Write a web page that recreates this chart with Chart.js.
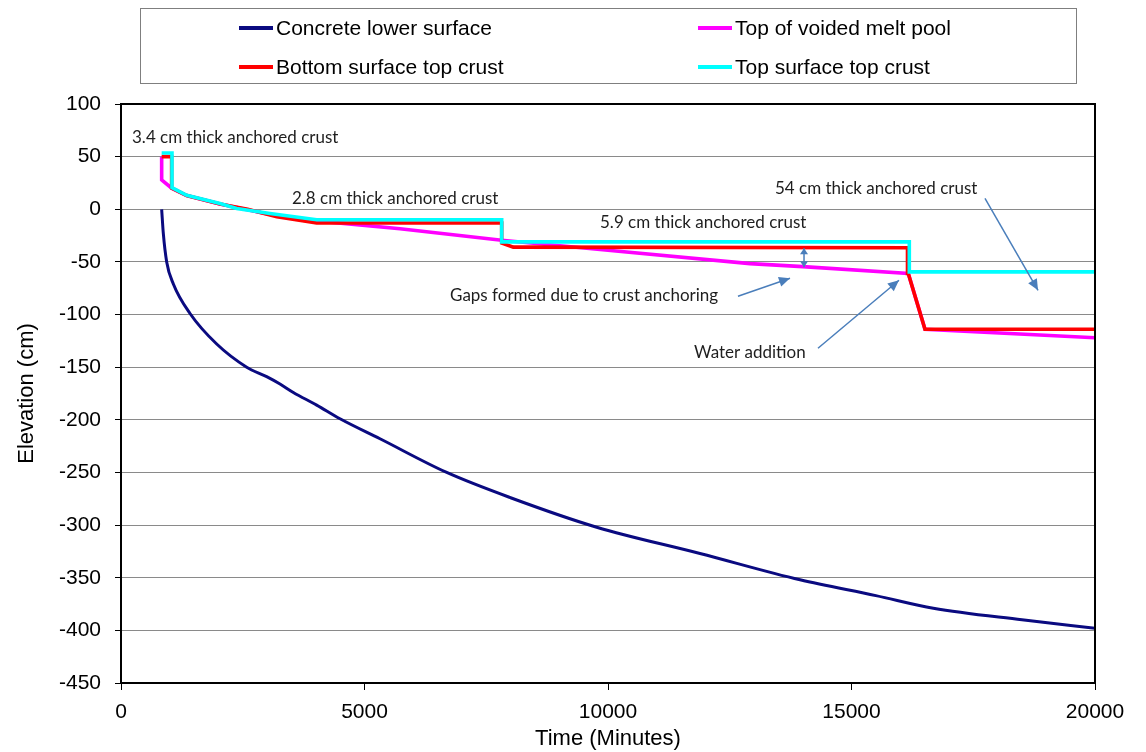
<!DOCTYPE html>
<html lang="en">
<head>
  <meta charset="UTF-8" />
  <title>Elevation vs time</title>
  <script src="https://cdn.jsdelivr.net/npm/chart.js"></script>
  <style>
    body {
      margin: 0;
      background: #fff;
    }

    #wrap {
      position: relative;
      width: 1146px;
      height: 752px;
    }

    #legend {
      position: absolute;
      left: 140px;
      top: 8px;
      width: 935px;
      height: 74px;
      border: 1px solid #7f7f7f;
      font-family: "Liberation Sans", Arial, sans-serif;
      font-size: 21px;
      color: #000;
    }

    .item {
      position: absolute;
      height: 24px;
      display: flex;
      align-items: center;
      white-space: nowrap;
    }

    .swatch {
      display: inline-block;
      width: 34px;
      height: 4px;
      margin-right: 3px;
    }
  </style>
</head>
<body>
  <div id="wrap">
    <canvas id="chart" width="1146" height="752"></canvas>
    <div id="legend"></div>
  </div>

  <script>
    // series (time in minutes, elevation in cm)
    const concreteT = [835, 869, 938, 1075, 1417, 1965, 2581, 2991, 3265, 3539, 4018, 4497, 5318, 6688, 8000, 9768, 11889, 13943, 15500, 16680, 18500, 20000];
    const concreteY = [0, -23, -50, -71, -99, -128, -150, -159, -166, -174, -186, -199, -218, -250, -274, -302, -327, -352, -367, -379, -390, -398];

    const meltT = [835, 835, 1040, 1349, 2033, 3060, 4018, 5729, 7817, 10000, 12916, 14000, 16166, 16509, 20000];
    const meltY = [50, 28, 20, 13, 5, -5, -11, -18.5, -29.5, -39, -51.6, -54.5, -61, -114, -122];

    const bottomT = [835, 1040, 1040, 1349, 2033, 2600, 3200, 4018, 7817, 7817, 8055, 16150, 16150, 16166, 16509, 20000];
    const bottomY = [50, 50, 20, 13, 5, 0, -7, -13, -13, -32, -36, -36.5, -61, -61, -114, -114];

    const topT = [835, 1047, 1047, 1349, 2033, 2375, 3060, 4018, 7817, 7817, 16187, 16187, 20000];
    const topY = [53.5, 53.5, 20.6, 13.3, 5.4, 0.7, -4, -10, -10, -31, -31, -59.5, -59.5];

    const seriesNames = ['Concrete lower surface', 'Top of voided melt pool', 'Bottom surface top crust', 'Top surface top crust'];
    const seriesColors = ['#0a0a80', '#ff00ff', '#ff0000', '#00ffff'];

    const xTicks = [0, 5000, 10000, 15000, 20000];
    const yMin = -450, yMax = 100, yStep = 50;

    // notes on the plot: [text, time, elevation]
    const notes = [
      ['3.4 cm thick anchored crust', 226, 68.4],
      ['2.8 cm thick anchored crust', 3511, 10.5],
      ['5.9 cm thick anchored crust', 9836, -12.3],
      ['54 cm thick anchored crust', 13429, 20],
      ['Gaps formed due to crust anchoring', 6756, -81.7],
      ['Water addition', 11766, -135.8]
    ];
    // arrows: [t1, y1, t2, y2, double]
    const arrows = [
      [12669, -82.6, 13737, -65.5, false],
      [14312, -132, 15975, -67.4, false],
      [17741, 10.4, 18830, -77, false],
      [14025, -37, 14025, -55, true]
    ];

    function pts(ts, ys) {
      return ts.map((t, i) => ({ x: t, y: ys[i] }));
    }

    const allT = [concreteT, meltT, bottomT, topT];
    const allY = [concreteY, meltY, bottomY, topY];

    const datasets = seriesNames.map((name, i) => ({
      label: name,
      data: pts(allT[i], allY[i]),
      showLine: true,
      borderColor: seriesColors[i],
      backgroundColor: seriesColors[i],
      borderWidth: i === 0 ? 3 : 3.6,
      pointRadius: 0,
      tension: 0,
      cubicInterpolationMode: i === 0 ? 'monotone' : 'default',
      order: 4 - i
    }));

    // html legend, two columns
    const legend = document.getElementById('legend');
    const spots = [[98, 7], [557, 7], [98, 46], [557, 46]];
    seriesNames.forEach((name, i) => {
      const it = document.createElement('div');
      it.className = 'item';
      it.style.left = spots[i][0] + 'px';
      it.style.top = spots[i][1] + 'px';
      it.innerHTML = '<span class="swatch" style="background:' + seriesColors[i] + '"></span>' + name;
      legend.appendChild(it);
    });

    function drawHead(ctx, x1, y1, x2, y2, len, half) {
      const a = Math.atan2(y2 - y1, x2 - x1);
      ctx.beginPath();
      ctx.moveTo(x2, y2);
      ctx.lineTo(x2 - len * Math.cos(a) + half * Math.sin(a), y2 - len * Math.sin(a) - half * Math.cos(a));
      ctx.lineTo(x2 - len * Math.cos(a) - half * Math.sin(a), y2 - len * Math.sin(a) + half * Math.cos(a));
      ctx.closePath();
      ctx.fill();
    }

    const extras = {
      id: 'extras',
      afterDatasetsDraw(chart) {
        const ctx = chart.ctx;
        const a = chart.chartArea;
        const xs = chart.scales.x, ys = chart.scales.y;
        ctx.save();
        // frame
        ctx.strokeStyle = '#000';
        ctx.lineWidth = 2;
        ctx.strokeRect(a.left, a.top, a.right - a.left, a.bottom - a.top);

        // notes
        ctx.fillStyle = '#1e1e1e';
        ctx.font = '17px Lato, "Open Sans", sans-serif';
        ctx.textBaseline = 'middle';
        ctx.textAlign = 'left';
        notes.forEach(n => {
          ctx.fillText(n[0], xs.getPixelForValue(n[1]), ys.getPixelForValue(n[2]));
        });

        // arrows
        ctx.strokeStyle = '#4a7ebb';
        ctx.fillStyle = '#4a7ebb';
        ctx.lineWidth = 1.5;
        arrows.forEach(r => {
          const x1 = xs.getPixelForValue(r[0]), y1 = ys.getPixelForValue(r[1]);
          const x2 = xs.getPixelForValue(r[2]), y2 = ys.getPixelForValue(r[3]);
          ctx.beginPath();
          ctx.moveTo(x1, y1);
          ctx.lineTo(x2, y2);
          ctx.stroke();
          if (r[4]) {
            drawHead(ctx, x1, y1, x2, y2, 6, 4);
            drawHead(ctx, x2, y2, x1, y1, 6, 4);
          } else {
            drawHead(ctx, x1, y1, x2, y2, 11, 5);
          }
        });
        ctx.restore();
      }
    };

    const axisFont = { family: '"Liberation Sans", Arial, sans-serif', size: 21 };

    new Chart(document.getElementById('chart'), {
      type: 'scatter',
      data: { datasets: datasets },
      options: {
        responsive: false,
        animation: false,
        layout: { padding: { top: 104, right: 51, left: 0, bottom: 0 } },
        plugins: {
          legend: { display: false },
          tooltip: { enabled: false }
        },
        scales: {
          x: {
            type: 'linear',
            min: 0,
            max: 20000,
            afterFit(scale) { scale.height = 69; },
            afterBuildTicks(scale) { scale.ticks = xTicks.map(v => ({ value: v })); },
            grid: { drawOnChartArea: false, tickColor: '#000', tickLength: 7, lineWidth: 1 },
            border: { display: false },
            ticks: { color: '#000', font: axisFont, padding: 10, maxRotation: 0, callback: v => String(v) },
            title: { display: true, text: 'Time (Minutes)', color: '#000', font: { family: axisFont.family, size: 22 }, padding: { top: 0, bottom: 0 } }
          },
          y: {
            min: yMin,
            max: yMax,
            afterFit(scale) { scale.width = 121; },
            grid: { color: '#8a8a8a', lineWidth: 1, tickColor: '#000', tickLength: 6 },
            border: { display: false },
            ticks: { stepSize: yStep, color: '#000', font: axisFont, padding: 14, callback: v => String(v) },
            title: { display: true, text: 'Elevation (cm)', color: '#000', font: { family: axisFont.family, size: 22 }, padding: { top: 14, bottom: 0 } }
          }
        }
      },
      plugins: [extras]
    });
  </script>
</body>
</html>
